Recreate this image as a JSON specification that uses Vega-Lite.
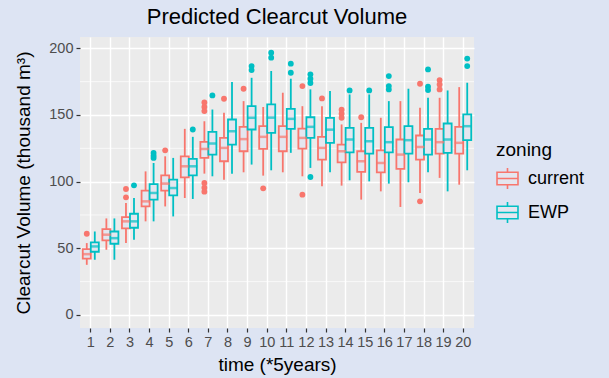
{
  "$schema": "https://vega.github.io/schema/vega-lite/v6.json",
  "autosize": {"type": "none"},
  "padding": {"left": 80, "top": 37, "right": 135, "bottom": 50},
  "width": 394,
  "height": 291,
  "background": "#dde4f3",
  "config": {
    "font": "Liberation Sans",
    "view": {"fill": "#ebebeb", "stroke": null},
    "title": {"fontSize": 22, "fontWeight": "normal", "color": "#000000", "anchor": "middle", "offset": 8},
    "axis": {"domain": false, "gridColor": "#ffffff", "gridWidth": 1.4, "tickColor": "#333333", "tickSize": 4, "tickWidth": 1.2, "labelColor": "#4d4d4d", "labelFontSize": 14.5, "labelFont": "Liberation Sans", "titleFont": "Liberation Sans", "titleFontSize": 19, "titleFontWeight": "normal", "titleColor": "#000000"},
    "legend": {"titleFontSize": 19, "titleFontWeight": "normal", "titleColor": "#000000", "labelFontSize": 18, "labelColor": "#000000", "titleFont": "Liberation Sans", "labelFont": "Liberation Sans"}
  },
  "title": "Predicted Clearcut Volume",
  "resolve": {"legend": {"color": "independent"}},
  "datasets": {
    "stats": [
      {"time": 1, "zoning": "current", "lo": 37.6, "q1": 42.3, "med": 45.6, "q3": 49.4, "hi": 53.9},
      {"time": 1, "zoning": "EWP", "lo": 41.4, "q1": 47.4, "med": 51.4, "q3": 54.4, "hi": 62.6},
      {"time": 2, "zoning": "current", "lo": 48.9, "q1": 55.9, "med": 60.2, "q3": 64.4, "hi": 72.4},
      {"time": 2, "zoning": "EWP", "lo": 41.4, "q1": 53.4, "med": 57.6, "q3": 62.6, "hi": 72.4},
      {"time": 3, "zoning": "current", "lo": 53.9, "q1": 64.9, "med": 70.2, "q3": 73.4, "hi": 84},
      {"time": 3, "zoning": "EWP", "lo": 56.4, "q1": 65.4, "med": 70.2, "q3": 75.9, "hi": 87.7},
      {"time": 4, "zoning": "current", "lo": 70.2, "q1": 81.4, "med": 85.2, "q3": 93.2, "hi": 107.7},
      {"time": 4, "zoning": "EWP", "lo": 70.2, "q1": 86.5, "med": 91.5, "q3": 98.2, "hi": 114},
      {"time": 5, "zoning": "current", "lo": 81.4, "q1": 93.2, "med": 98.5, "q3": 104.7, "hi": 119},
      {"time": 5, "zoning": "EWP", "lo": 73.9, "q1": 89.7, "med": 95.2, "q3": 101.5, "hi": 117.8},
      {"time": 6, "zoning": "current", "lo": 87.7, "q1": 103.2, "med": 111.5, "q3": 119, "hi": 139.6},
      {"time": 6, "zoning": "EWP", "lo": 87, "q1": 104.7, "med": 111.5, "q3": 117, "hi": 133.6},
      {"time": 7, "zoning": "current", "lo": 106, "q1": 117.8, "med": 124.5, "q3": 129.8, "hi": 145.3},
      {"time": 7, "zoning": "EWP", "lo": 104, "q1": 120.3, "med": 128.6, "q3": 137.3, "hi": 154.1},
      {"time": 8, "zoning": "current", "lo": 101.5, "q1": 115.3, "med": 125.3, "q3": 132.8, "hi": 151.6},
      {"time": 8, "zoning": "EWP", "lo": 106, "q1": 127.8, "med": 137.8, "q3": 146.6, "hi": 174.7},
      {"time": 9, "zoning": "current", "lo": 107, "q1": 122.8, "med": 131.9, "q3": 141.1, "hi": 160.4},
      {"time": 9, "zoning": "EWP", "lo": 112.8, "q1": 139.1, "med": 147.9, "q3": 156.6, "hi": 177.9},
      {"time": 10, "zoning": "current", "lo": 104.5, "q1": 124.5, "med": 133.6, "q3": 141.6, "hi": 156},
      {"time": 10, "zoning": "EWP", "lo": 108.5, "q1": 136.6, "med": 148, "q3": 157.9, "hi": 183},
      {"time": 11, "zoning": "current", "lo": 107, "q1": 122.8, "med": 133.6, "q3": 141.6, "hi": 166.7},
      {"time": 11, "zoning": "EWP", "lo": 121.6, "q1": 139.6, "med": 147.1, "q3": 154.6, "hi": 177.2},
      {"time": 12, "zoning": "current", "lo": 104, "q1": 124.8, "med": 132.8, "q3": 139.8, "hi": 156.6},
      {"time": 12, "zoning": "EWP", "lo": 110.3, "q1": 132.8, "med": 141.1, "q3": 148.3, "hi": 169.2},
      {"time": 13, "zoning": "current", "lo": 96.5, "q1": 116.5, "med": 125.3, "q3": 133.6, "hi": 156.6},
      {"time": 13, "zoning": "EWP", "lo": 107, "q1": 129.1, "med": 139, "q3": 147.9, "hi": 167.9},
      {"time": 14, "zoning": "current", "lo": 97, "q1": 114.5, "med": 122.8, "q3": 127.8, "hi": 142.9},
      {"time": 14, "zoning": "EWP", "lo": 101, "q1": 122, "med": 131.6, "q3": 140.4, "hi": 165.4},
      {"time": 15, "zoning": "current", "lo": 86.5, "q1": 107.3, "med": 115.3, "q3": 122.8, "hi": 144.1},
      {"time": 15, "zoning": "EWP", "lo": 100.2, "q1": 121, "med": 130.3, "q3": 140.4, "hi": 165.4},
      {"time": 16, "zoning": "current", "lo": 92.7, "q1": 107, "med": 114, "q3": 123.5, "hi": 147.9},
      {"time": 16, "zoning": "EWP", "lo": 98.5, "q1": 122, "med": 129.6, "q3": 140.9, "hi": 160.4},
      {"time": 17, "zoning": "current", "lo": 81, "q1": 109.5, "med": 120.3, "q3": 131.6, "hi": 160.4},
      {"time": 17, "zoning": "EWP", "lo": 99.5, "q1": 121, "med": 131.1, "q3": 141.6, "hi": 169.7},
      {"time": 18, "zoning": "current", "lo": 91.5, "q1": 116.5, "med": 126, "q3": 134.6, "hi": 155.4},
      {"time": 18, "zoning": "EWP", "lo": 107, "q1": 120.3, "med": 131.6, "q3": 139.6, "hi": 162.9},
      {"time": 19, "zoning": "current", "lo": 102.8, "q1": 121, "med": 129.6, "q3": 139.6, "hi": 162.9},
      {"time": 19, "zoning": "EWP", "lo": 92.7, "q1": 121.6, "med": 131.6, "q3": 143.6, "hi": 168.4},
      {"time": 20, "zoning": "current", "lo": 97.7, "q1": 121, "med": 129.1, "q3": 141.1, "hi": 170.9},
      {"time": 20, "zoning": "EWP", "lo": 108.5, "q1": 131.1, "med": 141.6, "q3": 150.4, "hi": 174.2}
    ],
    "outliers": [
      {"time": 1, "zoning": "current", "value": 60.9},
      {"time": 3, "zoning": "current", "value": 94.5},
      {"time": 3, "zoning": "current", "value": 88.2},
      {"time": 3, "zoning": "EWP", "value": 97.2},
      {"time": 4, "zoning": "EWP", "value": 121.5},
      {"time": 4, "zoning": "EWP", "value": 119.5},
      {"time": 4, "zoning": "EWP", "value": 117.8},
      {"time": 5, "zoning": "current", "value": 123.5},
      {"time": 6, "zoning": "EWP", "value": 139.1},
      {"time": 7, "zoning": "current", "value": 159.4},
      {"time": 7, "zoning": "current", "value": 156},
      {"time": 7, "zoning": "current", "value": 152.9},
      {"time": 7, "zoning": "current", "value": 99},
      {"time": 7, "zoning": "current", "value": 95.5},
      {"time": 7, "zoning": "current", "value": 92.5},
      {"time": 7, "zoning": "EWP", "value": 164.7},
      {"time": 8, "zoning": "current", "value": 162.2},
      {"time": 9, "zoning": "current", "value": 169.7},
      {"time": 9, "zoning": "EWP", "value": 186.7},
      {"time": 9, "zoning": "EWP", "value": 183.7},
      {"time": 10, "zoning": "current", "value": 95},
      {"time": 10, "zoning": "EWP", "value": 196.7},
      {"time": 10, "zoning": "EWP", "value": 193},
      {"time": 11, "zoning": "EWP", "value": 188.5},
      {"time": 11, "zoning": "EWP", "value": 181.7},
      {"time": 12, "zoning": "current", "value": 171.7},
      {"time": 12, "zoning": "current", "value": 90.2},
      {"time": 12, "zoning": "EWP", "value": 180.5},
      {"time": 12, "zoning": "EWP", "value": 177.2},
      {"time": 12, "zoning": "EWP", "value": 174},
      {"time": 12, "zoning": "EWP", "value": 103.5},
      {"time": 13, "zoning": "current", "value": 162.4},
      {"time": 14, "zoning": "current", "value": 154},
      {"time": 14, "zoning": "current", "value": 151},
      {"time": 14, "zoning": "current", "value": 147.9},
      {"time": 14, "zoning": "EWP", "value": 168.4},
      {"time": 15, "zoning": "current", "value": 148.3},
      {"time": 15, "zoning": "EWP", "value": 168.4},
      {"time": 16, "zoning": "EWP", "value": 179.2},
      {"time": 16, "zoning": "EWP", "value": 171.7},
      {"time": 16, "zoning": "EWP", "value": 169.2},
      {"time": 18, "zoning": "current", "value": 173.4},
      {"time": 18, "zoning": "current", "value": 85.2},
      {"time": 18, "zoning": "EWP", "value": 184.2},
      {"time": 18, "zoning": "EWP", "value": 171.2},
      {"time": 18, "zoning": "EWP", "value": 168.7},
      {"time": 19, "zoning": "current", "value": 176.2},
      {"time": 19, "zoning": "current", "value": 172.9},
      {"time": 19, "zoning": "current", "value": 169.2},
      {"time": 20, "zoning": "EWP", "value": 192.3},
      {"time": 20, "zoning": "EWP", "value": 186.7}
    ],
    "minor": [{"v": 25}, {"v": 75}, {"v": 125}, {"v": 175}]
  },
  "layer": [
    {
      "data": {"name": "minor"},
      "mark": {"type": "rule", "color": "#ffffff", "strokeWidth": 0.7},
      "encoding": {
        "y": {"field": "v", "type": "quantitative", "scale": {"domain": [-9.8, 208.5], "nice": false, "zero": false},
          "axis": {"title": "Clearcut Volume (thousand m³)", "values": [0, 50, 100, 150, 200], "labelPadding": 3, "titlePadding": 15}}
      }
    },
    {
      "data": {"name": "stats"},
      "resolve": {"legend": {"color": "independent"}},
      "encoding": {
        "x": {"field": "time", "type": "ordinal", "scale": {"paddingInner": 0.1, "paddingOuter": 0.1},
          "axis": {"title": "time (*5years)", "labelAngle": 0, "bandPosition": 0.5, "grid": true, "labelPadding": 3, "titlePadding": 7}},
        "xOffset": {"field": "zoning", "type": "nominal", "sort": ["current", "EWP"], "scale": {"paddingInner": 0, "paddingOuter": 0.1}}
      },
      "layer": [
        {
          "mark": {"type": "rule", "strokeWidth": 1.8},
          "encoding": {
            "y": {"field": "lo", "type": "quantitative"},
            "y2": {"field": "hi"},
            "color": {"field": "zoning", "type": "nominal", "scale": {"domain": ["current", "EWP"], "range": ["#F8766D", "#00BFC4"]},
              "legend": {"title": "zoning", "orient": "none", "legendX": 416, "legendY": 104, "symbolType": "M-1,-0.6H1V0.6H-1Z M-1,0H1 M0,-0.6V-1 M0,0.6V1", "symbolSize": 440, "symbolStrokeWidth": 1.6, "symbolFillColor": "#e4e6ef", "rowPadding": 5, "titlePadding": 7, "labelOffset": 9}}
          }
        },
        {
          "mark": {"type": "bar", "fill": "#e4e6ef", "strokeWidth": 1.8},
          "encoding": {
            "y": {"field": "q1", "type": "quantitative"},
            "y2": {"field": "q3"},
            "stroke": {"field": "zoning", "type": "nominal", "scale": {"domain": ["current", "EWP"], "range": ["#F8766D", "#00BFC4"]}, "legend": null}
          }
        },
        {
          "mark": {"type": "tick", "thickness": 2.5, "size": 9},
          "encoding": {
            "y": {"field": "med", "type": "quantitative"},
            "color": {"field": "zoning", "type": "nominal", "legend": null}
          }
        }
      ]
    },
    {
      "data": {"name": "outliers"},
      "mark": {"type": "circle", "size": 34, "opacity": 1},
      "encoding": {
        "x": {"field": "time", "type": "ordinal"},
        "xOffset": {"field": "zoning", "type": "nominal", "sort": ["current", "EWP"]},
        "y": {"field": "value", "type": "quantitative"},
        "color": {"field": "zoning", "type": "nominal", "legend": null}
      }
    }
  ]
}
